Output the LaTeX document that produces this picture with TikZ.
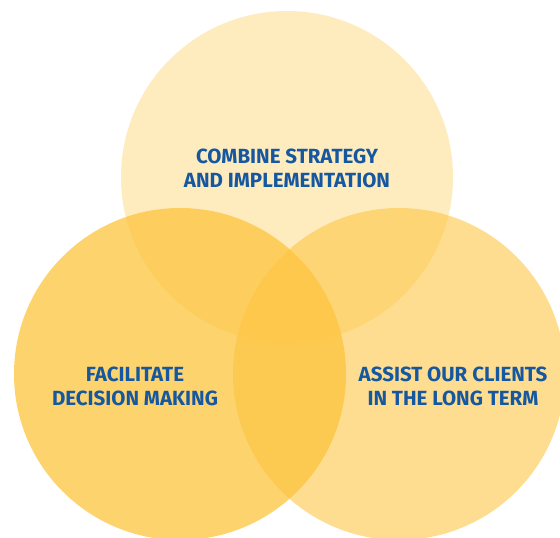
\documentclass[tikz,border=0pt]{standalone}
\usepackage{fontspec}
\setmainfont{Fira Sans}
\definecolor{gold}{RGB}{253,196,60}
\definecolor{dinblue}{RGB}{22,88,160}

\begin{document}
\begin{tikzpicture}[x=1pt,y=-1pt,
  ring/.style={circle,minimum size=332pt,inner sep=0pt,fill=gold,fill opacity=#1},
  caption/.style={align=center,text=dinblue,font=\fontsize{20.5}{24}\selectfont\bfseries}]
\useasboundingbox (0,0) rectangle (560,538);
\clip (0,0) rectangle (560,538);
\node [ring=0.33] (top) at (287,177) {};
\node [ring=0.57] (right) at (399,374) {};
\node [ring=0.75] (left) at (180,374) {};
\node [caption] (ctop) at (287,168) {COMBINE STRATEGY\\AND IMPLEMENTATION};
\node [caption] (cleft) at (135,386) {FACILITATE\\DECISION MAKING};
\node [caption] (cright) at (453,386) {ASSIST OUR CLIENTS\\IN THE LONG TERM};
\end{tikzpicture}
\end{document}
